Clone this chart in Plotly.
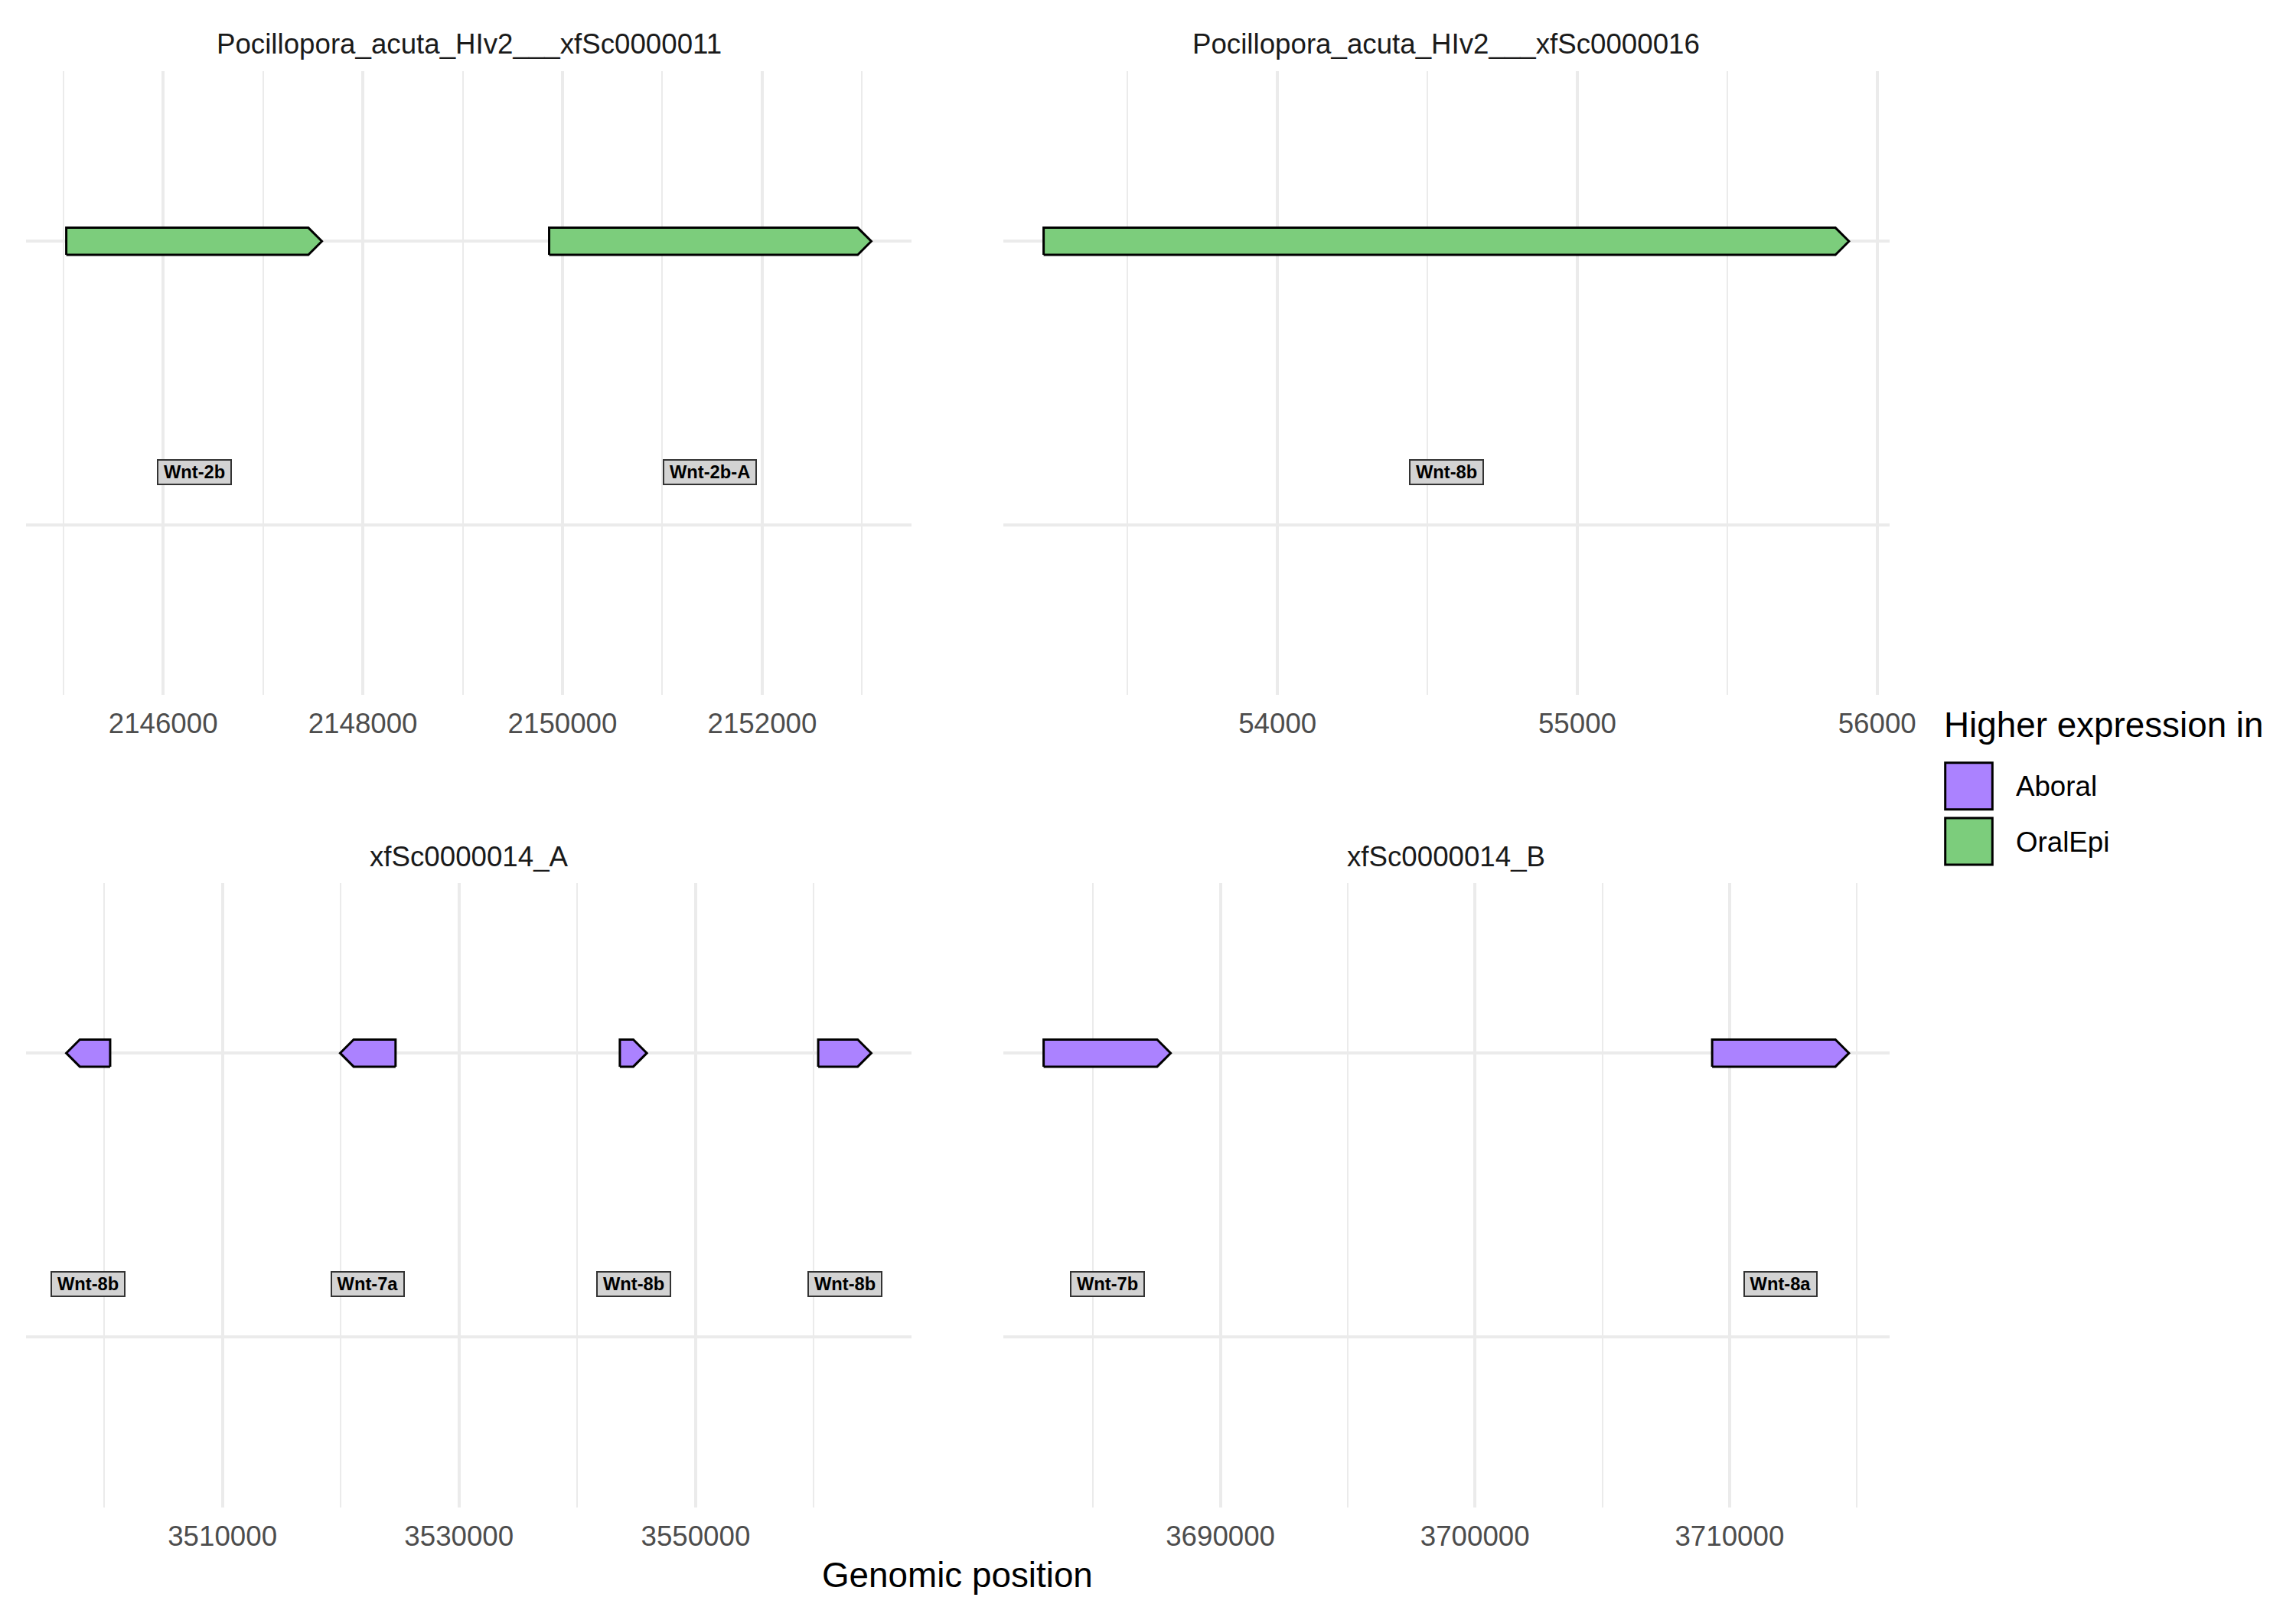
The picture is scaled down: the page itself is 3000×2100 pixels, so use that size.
import plotly.graph_objects as go

# ---------------- data ----------------
facet_names = [
    "Pocillopora_acuta_HIv2___xfSc0000011",
    "Pocillopora_acuta_HIv2___xfSc0000016",
    "xfSc0000014_A",
    "xfSc0000014_B",
]
gene_facet = [0, 0, 1, 2, 2, 2, 2, 3, 3]
gene_label = ["Wnt-2b", "Wnt-2b-A", "Wnt-8b", "Wnt-8b", "Wnt-7a", "Wnt-8b", "Wnt-8b", "Wnt-7b", "Wnt-8a"]
gene_start = [2145030, 2149866, 53220, 3500510, 3524635, 3543594, 3560362, 3683057, 3709316]
gene_end = [2147590, 2153092, 55906, 3496800, 3519950, 3545876, 3564848, 3688047, 3714690]
gene_expr = ["OralEpi", "OralEpi", "OralEpi", "Aboral", "Aboral", "Aboral", "Aboral", "Aboral", "Aboral"]

major_breaks = [
    [2146000, 2148000, 2150000, 2152000],
    [54000, 55000, 56000],
    [3510000, 3530000, 3550000],
    [3690000, 3700000, 3710000],
]
minor_breaks = [
    [2145000, 2147000, 2149000, 2151000, 2153000],
    [53500, 54500, 55500],
    [3500000, 3520000, 3540000, 3560000],
    [3685000, 3695000, 3705000, 3715000],
]
legend_levels = ["Aboral", "OralEpi"]
legend_colors = {"Aboral": "#AB82FF", "OralEpi": "#7CCD7C"}

# ---------------- layout geometry (pixels of the 3000x2100 page) ----------------
PAGE_W, PAGE_H = 3000, 2100
BODY_MARGIN = 8                      # default html body margin
W, H = PAGE_W - 2 * BODY_MARGIN, PAGE_H - 2 * BODY_MARGIN
FONT = "Liberation Sans, Arial, Helvetica, sans-serif"
col_px = [(34, 1191), (1311, 2468.5)]
row_px = [(93, 908), (1153.5, 1970)]
panel_pos = [(0, 0), (0, 1), (1, 0), (1, 1)]  # (row, col)

def px2x(p):
    return (p - BODY_MARGIN) / W

def px2y(p):
    return 1 - (p - BODY_MARGIN) / H

ARROW_PX = 17.7       # arrowhead length (1.5 mm @300dpi)
BODY_PX = 35.4        # body height (3 mm @300dpi)
Y_RANGE = [-0.6, 1.6]
GENE_Y = 1
LABEL_Y = 0.186

fig = go.Figure()
grid_col = "#EBEBEB"

ranges = []
for i in range(4):
    xs = [gene_start[k] for k in range(len(gene_facet)) if gene_facet[k] == i] + \
         [gene_end[k] for k in range(len(gene_facet)) if gene_facet[k] == i]
    lo, hi = min(xs), max(xs)
    span = hi - lo
    ranges.append([lo - 0.05 * span, hi + 0.05 * span])

layout_axes = {}
for i in range(4):
    r, c = panel_pos[i]
    sfx = "" if i == 0 else str(i + 1)
    x0, x1 = col_px[c]
    y0, y1 = row_px[r]
    layout_axes["xaxis" + sfx] = dict(
        domain=[px2x(x0), px2x(x1)], range=ranges[i], anchor="y" + sfx,
        tickmode="array", tickvals=major_breaks[i], ticktext=[str(v) for v in major_breaks[i]],
        showgrid=True, gridcolor=grid_col, gridwidth=4.45, zeroline=False, showline=False,
        ticks="", ticklabelstandoff=12, automargin=False,
        tickfont=dict(family=FONT, size=36.7, color="#4D4D4D"),
        minor=dict(tickmode="array", tickvals=minor_breaks[i], showgrid=True,
                   gridcolor=grid_col, gridwidth=2.2, ticks=""),
    )
    layout_axes["yaxis" + sfx] = dict(
        domain=[px2y(y1), px2y(y0)], range=Y_RANGE, anchor="x" + sfx,
        tickmode="array", tickvals=[0, 1], showticklabels=False, automargin=False,
        showgrid=True, gridcolor=grid_col, gridwidth=4.45, zeroline=False, showline=False, ticks="",
    )

# genes
for k in range(len(gene_facet)):
    i = gene_facet[k]
    r, c = panel_pos[i]
    sfx = "" if i == 0 else str(i + 1)
    x0p, x1p = col_px[c]
    y0p, y1p = row_px[r]
    xscale = (ranges[i][1] - ranges[i][0]) / (x1p - x0p)
    yscale = (Y_RANGE[1] - Y_RANGE[0]) / (y1p - y0p)
    s, e = gene_start[k], gene_end[k]
    d = 1 if e >= s else -1
    head = min(ARROW_PX * xscale, abs(e - s))
    h = BODY_PX * yscale / 2
    neck = e - d * head
    px = [s, neck, e, neck, s, s]
    py = [GENE_Y - h, GENE_Y - h, GENE_Y, GENE_Y + h, GENE_Y + h, GENE_Y - h]
    fig.add_trace(go.Scatter(
        x=px, y=py, xaxis="x" + sfx, yaxis="y" + sfx, mode="lines", fill="toself",
        fillcolor=legend_colors[gene_expr[k]], line=dict(color="black", width=3),
        showlegend=False, hoverinfo="skip",
    ))

# label widths (Helvetica bold metrics)
cw = {"W": .944, "n": .611, "t": .333, "-": .333, "b": .611, "a": .556, "A": .722}
def text_w(s, size):
    return sum(cw.get(ch, .556) for ch in s) * size

annotations = []
LBL_SIZE = 23.7
for k in range(len(gene_facet)):
    i = gene_facet[k]
    sfx = "" if i == 0 else str(i + 1)
    annotations.append(dict(
        x=(gene_start[k] + gene_end[k]) / 2, y=LABEL_Y, xref="x" + sfx, yref="y" + sfx,
        text="<b>" + gene_label[k] + "</b>", showarrow=False,
        font=dict(family=FONT, size=LBL_SIZE, color="black"),
        bgcolor="#D3D3D3", bordercolor="#333333", borderwidth=2, borderpad=1,
        width=text_w(gene_label[k], LBL_SIZE) + 12, height=28,
    ))

# facet titles
for i in range(4):
    r, c = panel_pos[i]
    x0, x1 = col_px[c]
    ty = 57.4 if r == 0 else 1119
    annotations.append(dict(
        x=px2x((x0 + x1) / 2), y=px2y(ty), xref="paper", yref="paper",
        text=facet_names[i], showarrow=False, xanchor="center", yanchor="middle",
        font=dict(family=FONT, size=36.7, color="#1A1A1A"),
    ))

# axis title
annotations.append(dict(
    x=px2x((col_px[0][0] + col_px[1][1]) / 2), y=px2y(2058), xref="paper", yref="paper",
    text="Genomic position", showarrow=False, xanchor="center", yanchor="middle",
    font=dict(family=FONT, size=45.8, color="black"),
))

# legend (drawn manually)
shapes = []
annotations.append(dict(
    x=px2x(2538), y=px2y(947), xref="paper", yref="paper", text="Higher expression in",
    showarrow=False, xanchor="left", yanchor="middle",
    font=dict(family=FONT, size=45.8, color="black"),
))
key_tops = [996.7, 1069]
for j, lev in enumerate(legend_levels):
    t = key_tops[j]
    shapes.append(dict(
        type="rect", xref="paper", yref="paper",
        x0=px2x(2541.7), x1=px2x(2603.3), y0=px2y(t + 61), y1=px2y(t),
        fillcolor=legend_colors[lev], line=dict(color="black", width=3),
    ))
    annotations.append(dict(
        x=px2x(2631.7), y=px2y(t + 31), xref="paper", yref="paper", text=lev,
        showarrow=False, xanchor="left", yanchor="middle",
        font=dict(family=FONT, size=36.7, color="black"),
    ))

fig.update_layout(
    width=W, height=H, margin=dict(l=0, r=0, t=0, b=0, pad=0, autoexpand=False),
    paper_bgcolor="white", plot_bgcolor="white", showlegend=False,
    annotations=annotations, shapes=shapes, font=dict(family=FONT),
    **layout_axes,
)

fig.write_html("out.html")
